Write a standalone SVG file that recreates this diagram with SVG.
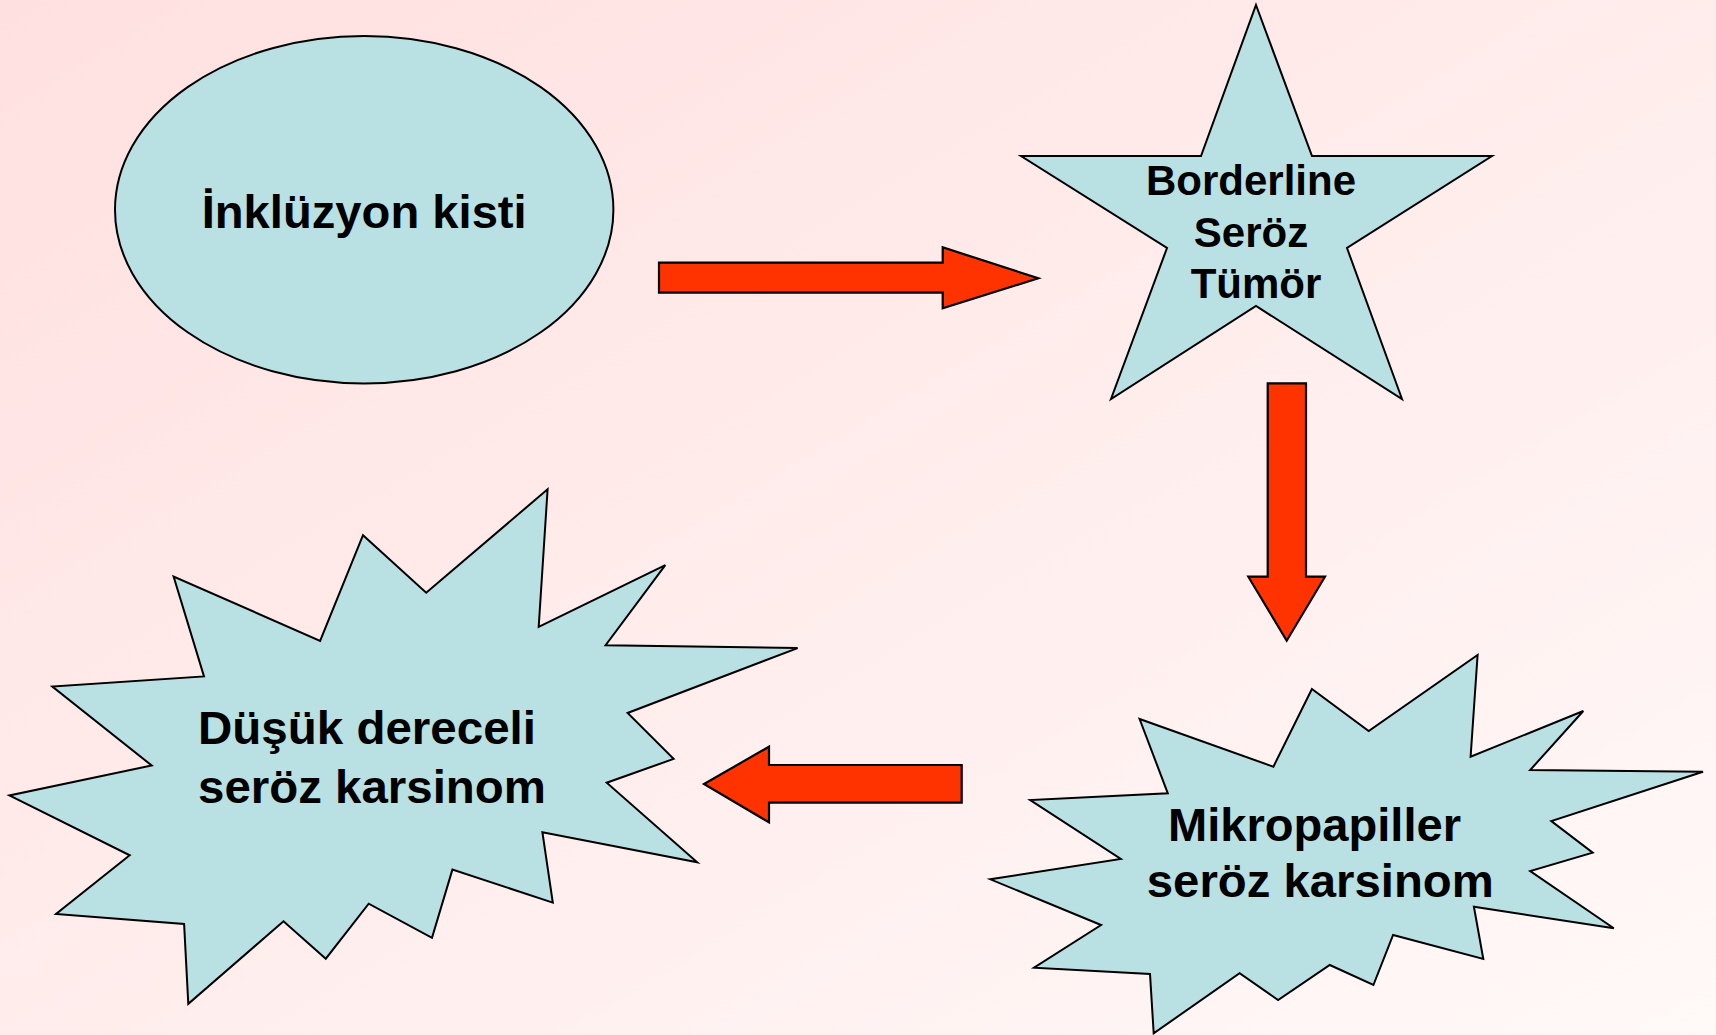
<svg xmlns="http://www.w3.org/2000/svg" width="1716" height="1035" viewBox="0 0 1716 1035">
<defs>
<linearGradient id="bg" x1="0" y1="0" x2="1" y2="1">
<stop offset="0" stop-color="#FFE0E0"/>
<stop offset="1" stop-color="#FFF9F8"/>
</linearGradient>
<style>
.shape{fill:#B9E0E3;stroke:#000;stroke-width:2;stroke-linejoin:miter}
.arrow{fill:#FF3300;stroke:#000;stroke-width:2.2;stroke-linejoin:miter}
.t{font-family:"Liberation Sans",Arial,sans-serif;font-weight:bold;fill:#000}
.big{font-size:47px}
.mid{font-size:42px}
</style>
</defs>
<rect x="0" y="0" width="1716" height="1035" fill="url(#bg)"/>

<g id="node-inkluzyon">
<ellipse class="shape" cx="364.2" cy="209.7" rx="249.2" ry="173.7"/>
<text class="t big" x="364.2" y="228" text-anchor="middle" textLength="325" lengthAdjust="spacingAndGlyphs">İnklüzyon kisti</text>
</g>

<g id="node-borderline">
<polygon class="shape" points="1256,5 1312,156 1492,156 1347,248 1402,399 1256,306 1111,399 1167,248 1021,156 1201,156"/>
<text class="t mid" x="1251" y="195" text-anchor="middle" textLength="210" lengthAdjust="spacingAndGlyphs">Borderline</text>
<text class="t mid" x="1251" y="247" text-anchor="middle">Seröz</text>
<text class="t mid" x="1256" y="298" text-anchor="middle">Tümör</text>
</g>

<g id="node-mikropapiller">
<polygon class="shape" points="1477.6,655 1470.6,756.7 1583.3,711 1530.2,770 1703,771.7 1551.3,821 1592.7,852.7 1530.2,871 1613.8,928.3 1473.9,906.7 1483.3,959 1393.1,935 1373.4,985 1329.8,965 1278.1,1000 1239.6,973.3 1153.7,1033.3 1150,974 1034,967.7 1101.1,925 990.3,879.3 1120.8,859 1030.2,800 1167.8,793.3 1139.6,719 1273.4,766.7 1311.9,689 1368.7,731"/>
<text class="t big" x="1314.5" y="841" text-anchor="middle" textLength="293" lengthAdjust="spacingAndGlyphs">Mikropapiller</text>
<text class="t big" x="1320.3" y="897" text-anchor="middle" textLength="347" lengthAdjust="spacingAndGlyphs">seröz karsinom</text>
</g>

<g id="node-dusuk">
<polygon class="shape" points="547.6,489.3 538.7,626.8 665.3,565.2 605.6,645.2 797.6,648.1 627.6,713 673.6,758.9 606.7,782.7 697.2,862.3 542.4,832.2 552.8,902.6 452.4,869.6 432,937.8 368.7,903.7 325.8,958.7 283.5,921.3 188.3,1003.8 184.1,923.9 56,914 129.7,855.3 9.4,795.5 151.7,765.5 52.3,686.6 204,676.4 173.6,576.6 320.1,640.8 363,535.2 426.2,592.7"/>
<text class="t big" x="198" y="744" textLength="338" lengthAdjust="spacingAndGlyphs">Düşük dereceli</text>
<text class="t big" x="198" y="803" textLength="348" lengthAdjust="spacingAndGlyphs">seröz karsinom</text>
</g>

<g id="connectors">
<polygon class="arrow" points="659,262.7 942.7,262.7 942.7,247.3 1038.3,278.3 942.7,308.3 942.7,292.7 659,292.7"/>
<polygon class="arrow" points="1267.7,383.3 1306,383.3 1306,576.7 1325,576.7 1286.7,640.7 1248.3,576.7 1267.7,576.7"/>
<polygon class="arrow" points="961.7,765 769,765 769,746.7 704,784 769,822.3 769,802.7 961.7,802.7"/>
</g>
</svg>
